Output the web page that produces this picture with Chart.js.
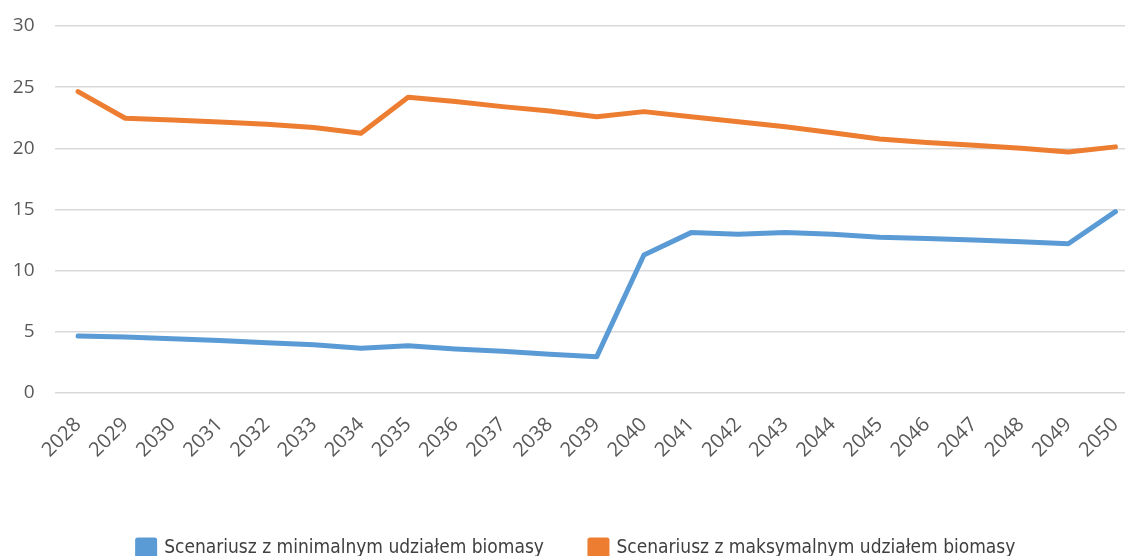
<!DOCTYPE html>
<html>
<head>
<meta charset="utf-8">
<script src="https://cdn.jsdelivr.net/npm/chart.js@4/dist/chart.umd.min.js"></script>
<style>
  html, body { margin: 0; padding: 0; background: #fff; overflow: hidden; }
  #wrap { width: 1125px; height: 556px; overflow: hidden; position: relative; }
  #chart { position: absolute; left: 0; top: 0; }
</style>
</head>
<body>
<div id="wrap">
  <canvas id="chart" width="1139" height="568"></canvas>
</div>
<script>
// lata
const years = ['2028', '2029', '2030', '2031', '2032', '2033', '2034', '2035', '2036', '2037', '2038', '2039',
  '2040', '2041', '2042', '2043', '2044', '2045', '2046', '2047', '2048', '2049', '2050'];

// scenariusz z minimalnym udzialem biomasy
const minBiomass = [4.66, 4.58, 4.44, 4.3, 4.11, 3.95, 3.65, 3.87, 3.6, 3.41, 3.16, 2.97,
  11.28, 13.11, 12.97, 13.12, 12.97, 12.73, 12.62, 12.51, 12.37, 12.2, 14.83];

// scenariusz z maksymalnym udzialem biomasy
const maxBiomass = [24.64, 22.46, 22.32, 22.16, 21.97, 21.7, 21.23, 24.17, 23.82, 23.41, 23.06, 22.59,
  23.0, 22.59, 22.18, 21.77, 21.28, 20.77, 20.47, 20.25, 20.0, 19.7, 20.12];

const seriesNames = ['Scenariusz z minimalnym udziałem biomasy', 'Scenariusz z maksymalnym udziałem biomasy'];
const yTicks = [0, 5, 10, 15, 20, 25, 30];

const tickFont = { family: '"Open Sans", "Liberation Sans", sans-serif', size: 19 };
const tickColor = '#595959';

// osie maja stale wymiary, bez automatycznych marginesow na etykiety
function fixScale(scale, size) {
  if (scale.isHorizontal()) scale.height = size;
  else scale.width = size;
  scale.paddingTop = 0;
  scale.paddingBottom = 0;
  scale.paddingLeft = 0;
  scale.paddingRight = 0;
}

// legenda troche w prawo
const legendShift = {
  id: 'legendShift',
  afterLayout(chart) {
    chart.legend.left += 7;
    chart.legend.right += 7;
  }
};

let ctx = document.getElementById('chart').getContext('2d');

const myChart = new Chart(ctx, {
  type: 'line',
  data: {
    labels: years,
    datasets: [{
      label: seriesNames[0],
      data: minBiomass,
      borderColor: '#5b9bd5',
      backgroundColor: '#5b9bd5',
      borderWidth: 5,
      pointRadius: 0,
      borderCapStyle: 'round',
      borderJoinStyle: 'round'
    }, {
      label: seriesNames[1],
      data: maxBiomass,
      borderColor: '#ed7d31',
      backgroundColor: '#ed7d31',
      borderWidth: 5,
      pointRadius: 0,
      borderCapStyle: 'round',
      borderJoinStyle: 'round'
    }]
  },
  options: {
    responsive: false,
    animation: false,
    layout: { padding: { top: 26, left: 0, right: 0, bottom: 0 } },
    scales: {
      x: {
        offset: true,
        grid: { display: false, drawTicks: false },
        border: { display: false },
        ticks: {
          color: tickColor,
          font: { family: tickFont.family, size: 20 },
          minRotation: 45,
          maxRotation: 45,
          padding: 20,
          autoSkip: false
        },
        afterFit: (scale) => fixScale(scale, 100)
      },
      y: {
        min: 0,
        max: 30,
        afterBuildTicks: (scale) => { scale.ticks = yTicks.map(v => ({ value: v })); },
        grid: { color: '#d9d9d9', lineWidth: 1.5, drawTicks: false },
        border: { display: false },
        ticks: { color: tickColor, font: tickFont, padding: 20 },
        afterFit: (scale) => fixScale(scale, 54.5)
      }
    },
    plugins: {
      tooltip: { enabled: false },
      legend: {
        position: 'bottom',
        labels: {
          color: '#404040',
          font: { family: '"DejaVu Sans Condensed", "Liberation Sans", sans-serif', size: 19 },
          boxWidth: 17,
          boxHeight: 17,
          padding: 46
        }
      }
    }
  },
  plugins: [legendShift]
});
</script>
</body>
</html>
